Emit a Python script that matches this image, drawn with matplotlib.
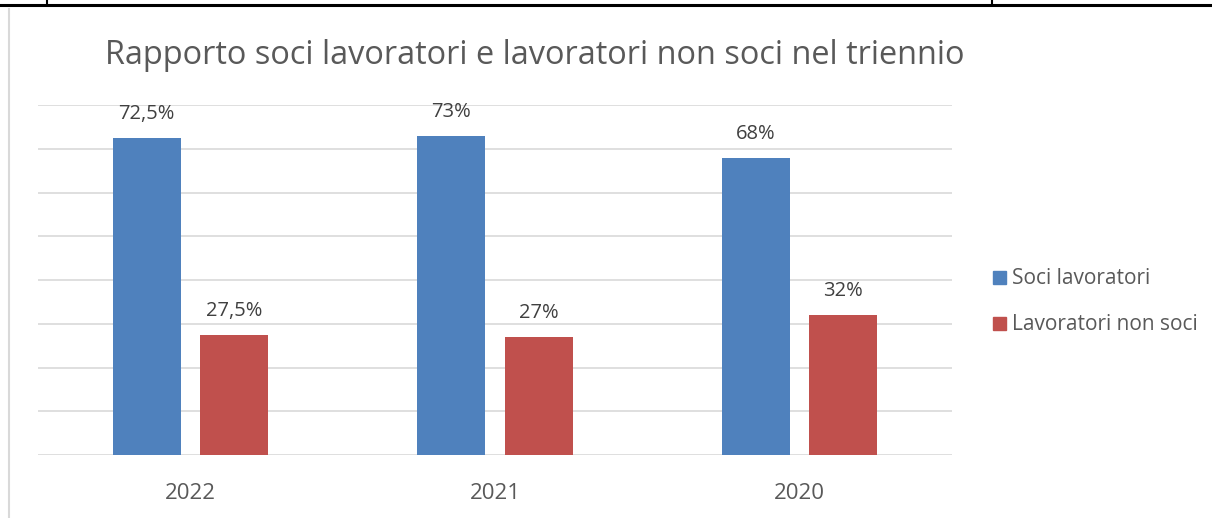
import numpy as np
import matplotlib.pyplot as plt
from matplotlib.lines import Line2D
from matplotlib.patches import Rectangle

years = ['2022', '2021', '2020']
soci = [72.5, 73, 68]
non_soci = [27.5, 27, 32]
soci_lbl = ['72,5%', '73%', '68%']
non_soci_lbl = ['27,5%', '27%', '32%']

W, H = 1212, 518
plt.rcParams['font.family'] = ['Open Sans', 'DejaVu Sans']
fig = plt.figure(figsize=(W / 100, H / 100), dpi=100)

# table borders from the document
fig.add_artist(Line2D([0, 1], [1 - 5 / H, 1 - 5 / H], color='black', lw=2.2))
for xp in (47, 992):
    fig.add_artist(Line2D([xp / W, xp / W], [1 - 5 / H, 1], color='black', lw=1.5))
fig.add_artist(Line2D([9 / W, 9 / W], [0, 1 - 9 / H], color='#d9d9d9', lw=1.5))

ax = fig.add_axes([38 / W, (H - 455) / H, 914 / W, 350 / H])
x = np.arange(len(years))
bw = 0.223
off = 0.143
ax.bar(x - off, soci, bw, color='#4f81bd', zorder=3)
ax.bar(x + off, non_soci, bw, color='#c0504d', zorder=3)

for i in range(len(years)):
    ax.text(x[i] - off, soci[i] + 5.4, soci_lbl[i], ha='center', va='center',
            fontsize=14.5, color='#404040')
    ax.text(x[i] + off, non_soci[i] + 5.4, non_soci_lbl[i], ha='center', va='center',
            fontsize=14.5, color='#404040')

ax.set_xlim(-0.5, 2.5)
ax.set_ylim(0, 80)
ax.set_yticks(np.arange(0, 81, 10))
ax.yaxis.grid(True, color='#d9d9d9', lw=1.2, zorder=0)
ax.tick_params(axis='y', left=False, labelleft=False)
ax.tick_params(axis='x', bottom=False, pad=17, labelsize=16, labelcolor='#595959')
ax.set_xticks(x)
ax.set_xticklabels(years)
for s in ax.spines.values():
    s.set_visible(False)

fig.text(535 / W, 1 - 55 / H, 'Rapporto soci lavoratori e lavoratori non soci nel triennio',
         ha='center', va='center', fontsize=23.4, color='#595959')

# legend
for yy, col, lab in [(277, '#4f81bd', 'Soci lavoratori'), (323, '#c0504d', 'Lavoratori non soci')]:
    fig.add_artist(Rectangle((993 / W, (H - yy - 6.5) / H), 13 / W, 13 / H,
                             color=col, transform=fig.transFigure))
    fig.text(1012 / W, 1 - (yy + 2) / H, lab, ha='left', va='center', fontsize=15, color='#595959')

fig.savefig('out.png', dpi=100)
